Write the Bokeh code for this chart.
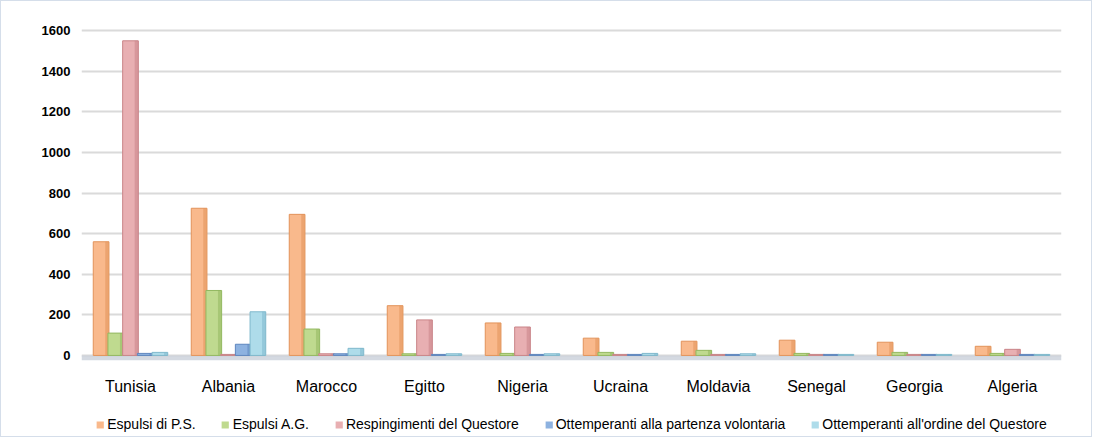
from bokeh.plotting import figure
from bokeh.layouts import column
from bokeh.models import ColumnDataSource, FactorRange, FixedTicker, Legend, LegendItem, BoxAnnotation
from bokeh.transform import dodge
from bokeh.embed import file_html
from bokeh.resources import INLINE

countries = ["Tunisia", "Albania", "Marocco", "Egitto", "Nigeria",
             "Ucraina", "Moldavia", "Senegal", "Georgia", "Algeria"]
espulsi_ps = [560, 725, 695, 245, 160, 85, 70, 75, 65, 45]
espulsi_ag = [110, 320, 130, 8, 10, 15, 25, 10, 15, 10]
respingimenti = [1550, 5, 8, 175, 140, 5, 5, 5, 5, 30]
partenza_vol = [10, 55, 8, 5, 5, 5, 5, 5, 5, 5]
ordine_questore = [15, 215, 35, 8, 8, 10, 8, 5, 5, 5]

series_names = ["Espulsi di P.S.", "Espulsi A.G.", "Respingimenti del Questore",
                "Ottemperanti alla partenza volontaria", "Ottemperanti all'ordine del Questore"]
series_keys = ["ps", "ag", "resp", "vol", "ord"]
fills = ["#F9B98C", "#BFDA8F", "#E8AFB2", "#8DB2E0", "#AEDCEA"]
edges = ["#E2935A", "#93B860", "#C98488", "#5E86BE", "#7FB8CC"]
y_ticks = [0, 200, 400, 600, 800, 1000, 1200, 1400, 1600]

source = ColumnDataSource(dict(x=countries, ps=espulsi_ps, ag=espulsi_ag, resp=respingimenti,
                               vol=partenza_vol, ord=ordine_questore))

p = figure(x_range=FactorRange(*countries), y_range=(-25, 1650),
           width=1090, height=396, output_backend="svg", toolbar_location=None,
           min_border_left=80, min_border_right=26, min_border_top=19, min_border_bottom=0)
p.outline_line_color = None
p.background_fill_color = "white"
p.border_fill_color = "white"

p.add_layout(BoxAnnotation(bottom=-25, top=0, fill_color="#C9D0DA", fill_alpha=0.8,
                           line_color=None, level="underlay"))

offsets = [-0.30, -0.15, 0.0, 0.15, 0.30]
for key, off, fc, lc in zip(series_keys, offsets, fills, edges):
    p.vbar(x=dodge("x", off, range=p.x_range), top=key, bottom=0, width=0.16, source=source,
           fill_color=fc, line_color=lc, line_width=1)
    # darker side face for a light 3D feel
    p.vbar(x=dodge("x", off + 0.06, range=p.x_range), top=key, bottom=0, width=0.035, source=source,
           fill_color=lc, fill_alpha=0.55, line_color=None)

p.yaxis.ticker = FixedTicker(ticks=y_ticks)
p.ygrid.ticker = FixedTicker(ticks=y_ticks)
p.ygrid.grid_line_color = "#DADADA"
p.ygrid.grid_line_width = 2
p.xgrid.grid_line_color = None
p.axis.axis_line_color = None
p.axis.major_tick_line_color = None
p.axis.minor_tick_line_color = None
p.yaxis.major_label_text_font = "Liberation Sans"
p.yaxis.major_label_text_font_style = "bold"
p.yaxis.major_label_text_font_size = "13px"
p.yaxis.major_label_text_color = "black"
p.xaxis.major_label_text_font = "Liberation Sans"
p.xaxis.major_label_text_font_size = "16px"
p.xaxis.major_label_text_color = "black"
p.xaxis.major_label_standoff = 11

# legend in its own strip
lg = figure(width=1090, height=39, x_range=(0, 1), y_range=(0, 1), output_backend="svg",
            toolbar_location=None, min_border_left=0, min_border_right=30,
            min_border_top=0, min_border_bottom=0)
lg.axis.visible = False
lg.grid.visible = False
lg.outline_line_color = None
lg.border_fill_color = "white"
items = []
for name, fc in zip(series_names, fills):
    # legend handle only; drawn outside the visible range
    r = lg.vbar(x=[-5], top=[-5], bottom=[-6], width=0.1, fill_color=fc, line_color=None)
    items.append(LegendItem(label=name, renderers=[r]))
legend = Legend(items=items, orientation="horizontal", location="bottom_center")
legend.label_text_font = "Liberation Sans"
legend.label_text_font_size = "14px"
legend.label_text_color = "black"
legend.glyph_width = 9
legend.glyph_height = 9
legend.spacing = 25
legend.label_standoff = 3
legend.border_line_color = None
legend.background_fill_alpha = 0
legend.padding = 0
legend.margin = 4
lg.add_layout(legend)

layout = column(p, lg, spacing=0, styles={"border": "1px solid #D5DEEA"})

open("out.html", "w").write(file_html(layout, INLINE))
